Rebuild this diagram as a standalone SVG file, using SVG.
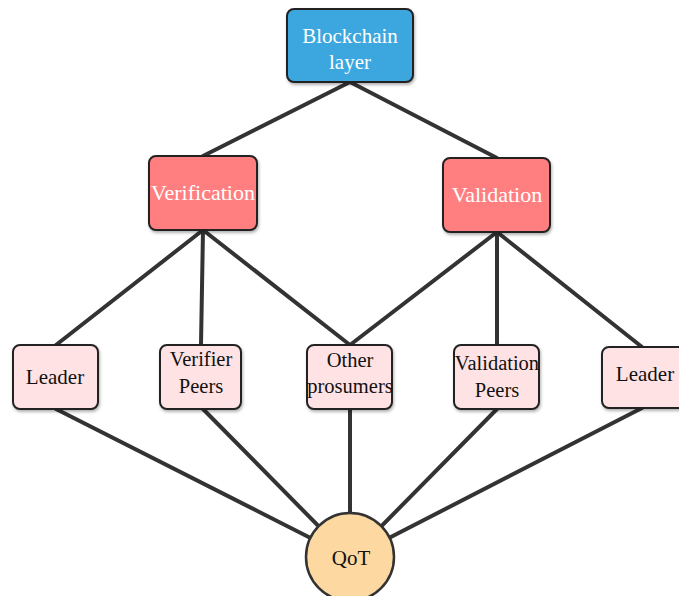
<svg xmlns="http://www.w3.org/2000/svg" width="679" height="596" viewBox="0 0 679 596">
<defs>
<filter id="sh" x="-20%" y="-20%" width="140%" height="140%">
<feDropShadow dx="1" dy="2" stdDeviation="1.5" flood-color="#000" flood-opacity="0.3"/>
</filter>
</defs>
<style>
.box{stroke:#222;stroke-width:2;filter:url(#sh)}
.top{fill:#3AA7DE}
.mid{fill:#FF7F80}
.low{fill:#FFE3E4}
.qot{fill:#FDD9A1;stroke:#333;stroke-width:2.5}
text{font-family:"Liberation Serif","Times New Roman",serif;font-size:20.5px;text-anchor:middle}
.w{fill:#fff}
.d{fill:#111}
.c line{stroke:#333;stroke-width:4;stroke-linecap:round}
</style>
<rect width="679" height="596" fill="#fff"/>
<g class="c" id="connectors">
<line x1="350" y1="82" x2="203" y2="156"/>
<line x1="350" y1="82" x2="497" y2="158"/>
<line x1="203" y1="230" x2="56" y2="345"/>
<line x1="203" y1="230" x2="201" y2="345"/>
<line x1="203" y1="230" x2="350" y2="345"/>
<line x1="497" y1="232" x2="350" y2="345"/>
<line x1="497" y1="232" x2="497" y2="345"/>
<line x1="497" y1="232" x2="642" y2="347"/>
<line x1="56" y1="409" x2="350" y2="558"/>
<line x1="203" y1="409" x2="350" y2="558"/>
<line x1="350" y1="409" x2="350" y2="558"/>
<line x1="497" y1="409" x2="350" y2="558"/>
<line x1="642" y1="408" x2="350" y2="558"/>
</g>
<g id="blockchain">
<rect class="box top" x="287" y="9" width="126" height="73" rx="7"/>
<text class="w" x="350" y="43" style="font-size:21px">Blockchain</text>
<text class="w" x="350" y="69" style="font-size:21px">layer</text>
</g>
<g id="verification">
<rect class="box mid" x="149" y="156" width="108" height="74" rx="7"/>
<text class="w" x="203" y="200" style="font-size:22px">Verification</text>
</g>
<g id="validation">
<rect class="box mid" x="443" y="158" width="107" height="74" rx="7"/>
<text class="w" x="497" y="202" style="font-size:22px">Validation</text>
</g>
<g id="leader-left">
<rect class="box low" x="13" y="345" width="85" height="64" rx="7"/>
<text class="d" x="55" y="384" style="font-size:21px">Leader</text>
</g>
<g id="verifier-peers">
<rect class="box low" x="160" y="345" width="81" height="64" rx="7"/>
<text class="d" x="201" y="366">Verifier</text>
<text class="d" x="201" y="393">Peers</text>
</g>
<g id="other-prosumers">
<rect class="box low" x="307" y="345" width="85" height="64" rx="7"/>
<text class="d" x="350" y="367">Other</text>
<text class="d" x="350" y="393">prosumers</text>
</g>
<g id="validation-peers">
<rect class="box low" x="454" y="345" width="85" height="64" rx="7"/>
<text class="d" x="497" y="370">Validation</text>
<text class="d" x="497" y="397">Peers</text>
</g>
<g id="leader-right">
<rect class="box low" x="602" y="347" width="86" height="61" rx="7"/>
<text class="d" x="645" y="381" style="font-size:21px">Leader</text>
</g>
<g id="qot">
<circle class="qot" cx="350" cy="557" r="44"/>
<text class="d" x="351" y="565" style="font-size:21px">QoT</text>
</g>
</svg>
